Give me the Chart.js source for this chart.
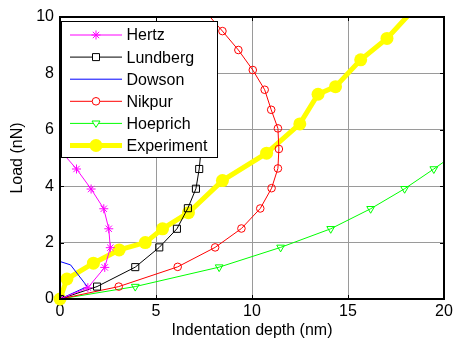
<!DOCTYPE html>
<html>
<head>
<meta charset="utf-8">
<script src="https://cdn.jsdelivr.net/npm/chart.js@4.4.1/dist/chart.umd.min.js"></script>
<style>
html, body { margin: 0; padding: 0; background: #fff; }
#wrap { width: 453px; height: 340px; }
</style>
</head>
<body>
<div id="wrap"><canvas id="chart" width="453" height="340"></canvas></div>
<script>
// tick labels
const depthTicks = [0, 5, 10, 15, 20];
const loadTicks = [0, 2, 4, 6, 8, 10];

// series (depth in nm, load in nN)
const hertzDepth = [0, 1.45, 2.33, 2.62, 2.54, 2.28, 1.62, 0.86, -0.05, -1.0];
const hertzLoad = [0, 0.40, 1.12, 1.82, 2.49, 3.20, 3.90, 4.61, 5.32, 6.0];

const lundbergDepth = [0, 1.93, 3.92, 5.17, 6.09, 6.66, 7.08, 7.25, 7.35, 7.40, 7.43, 7.45, 7.46];
const lundbergLoad = [0, 0.44, 1.13, 1.83, 2.49, 3.22, 3.91, 4.61, 5.30, 6.00, 6.70, 7.40, 8.10];

const dowsonDepth = [0, 1.42, 0.55, -0.6];
const dowsonLoad = [0, 0.44, 1.21, 1.46];

const nikpurDepth = [0, 3.06, 6.13, 8.08, 9.45, 10.43, 11.02, 11.35, 11.40, 11.35, 11.0, 10.66, 10.04, 9.29, 8.46, 7.5];
const nikpurLoad = [0, 0.44, 1.14, 1.83, 2.50, 3.21, 3.93, 4.63, 5.32, 6.05, 6.71, 7.42, 8.12, 8.83, 9.50, 10.25];

const hoeprichDepth = [0, 3.92, 8.29, 11.49, 14.1, 16.18, 17.95, 19.47, 20.9];
const hoeprichLoad = [0, 0.44, 1.13, 1.83, 2.49, 3.20, 3.91, 4.61, 5.30];

const experimentDepth = [0, 0.36, 1.74, 3.08, 4.44, 5.34, 6.69, 8.46, 10.76, 12.49, 13.44, 14.35, 15.66, 17.03, 18.6];
const experimentLoad = [0, 0.71, 1.27, 1.74, 2.0, 2.49, 3.06, 4.2, 5.17, 6.21, 7.26, 7.53, 8.48, 9.24, 10.4];

const FONT = "'Liberation Sans', Arial, sans-serif";

function toPoints(xs, ys) {
    return xs.map((x, i) => ({ x: x, y: ys[i] }));
}

// legend entries, in the order the reference lists them
const legendItems = [
    { label: 'Hertz', color: '#ff00ff', width: 1, marker: 'star', r: 4.5 },
    { label: 'Lundberg', color: '#000000', width: 1, marker: 'square', r: 3.5 },
    { label: 'Dowson', color: '#0000ff', width: 1, marker: null },
    { label: 'Nikpur', color: '#ff0000', width: 1, marker: 'circle', r: 3.8 },
    { label: 'Hoeprich', color: '#00ff00', width: 1, marker: 'tri', r: 4 },
    { label: 'Experiment', color: '#ffff00', width: 5, marker: 'dot', r: 6.5 },
];

function drawMarker(ctx, kind, x, y, r, color) {
    ctx.strokeStyle = color;
    ctx.fillStyle = color;
    ctx.lineWidth = 1;
    ctx.beginPath();
    if (kind === 'star') {
        for (let a = 0; a < 4; a++) {
            const ang = a * Math.PI / 4;
            ctx.moveTo(x - r * Math.cos(ang), y - r * Math.sin(ang));
            ctx.lineTo(x + r * Math.cos(ang), y + r * Math.sin(ang));
        }
        ctx.stroke();
    } else if (kind === 'square') {
        ctx.rect(x - r, y - r, 2 * r, 2 * r);
        ctx.fillStyle = '#fff';
        ctx.fill();
        ctx.stroke();
    } else if (kind === 'circle') {
        ctx.arc(x, y, r, 0, Math.PI * 2);
        ctx.fillStyle = '#fff';
        ctx.fill();
        ctx.stroke();
    } else if (kind === 'tri') {
        ctx.moveTo(x - r, y - r * 0.6);
        ctx.lineTo(x + r, y - r * 0.6);
        ctx.lineTo(x, y + r);
        ctx.closePath();
        ctx.fillStyle = '#fff';
        ctx.fill();
        ctx.stroke();
    } else if (kind === 'dot') {
        ctx.arc(x, y, r, 0, Math.PI * 2);
        ctx.fill();
    }
}

// axes box with inward tick marks, like the MATLAB frame
const framePlugin = {
    id: 'frame',
    afterDatasetsDraw(chart) {
        const { ctx, chartArea: a, scales } = chart;
        ctx.save();
        ctx.strokeStyle = '#000';
        ctx.lineWidth = 1;
        ctx.beginPath();
        depthTicks.forEach((v) => {
            const px = Math.round(scales.x.getPixelForValue(v)) + 0.5;
            ctx.moveTo(px, a.bottom);
            ctx.lineTo(px, a.bottom - 4);
            ctx.moveTo(px, a.top);
            ctx.lineTo(px, a.top + 4);
        });
        loadTicks.forEach((v) => {
            const py = Math.round(scales.y.getPixelForValue(v)) + 0.5;
            ctx.moveTo(a.left, py);
            ctx.lineTo(a.left + 4, py);
            ctx.moveTo(a.right, py);
            ctx.lineTo(a.right - 4, py);
        });
        ctx.stroke();
        ctx.lineWidth = 2;
        ctx.strokeRect(a.left, a.top, a.right - a.left, a.bottom - a.top);
        ctx.restore();
    }
};

const legendPlugin = {
    id: 'boxLegend',
    afterDraw(chart) {
        const ctx = chart.ctx;
        const box = { left: 61, top: 21, right: 217, bottom: 157 };
        ctx.save();
        ctx.fillStyle = '#fff';
        ctx.fillRect(box.left, box.top, box.right - box.left, box.bottom - box.top);
        ctx.strokeStyle = '#000';
        ctx.lineWidth = 1;
        ctx.strokeRect(box.left + 0.5, box.top + 0.5, box.right - box.left, box.bottom - box.top);
        ctx.font = '16px ' + FONT;
        ctx.textBaseline = 'middle';
        legendItems.forEach((item, i) => {
            const y = 35 + i * 22.1;
            ctx.strokeStyle = item.color;
            ctx.lineWidth = item.width;
            ctx.beginPath();
            ctx.moveTo(70, y);
            ctx.lineTo(122, y);
            ctx.stroke();
            if (item.marker) {
                drawMarker(ctx, item.marker, 96, y, item.r, item.color);
            }
            ctx.fillStyle = '#000';
            ctx.fillText(item.label, 126.5, y + 1);
        });
        ctx.restore();
    }
};

function modelSet(label, xs, ys, color, style, radius, rotation) {
    return {
        label: label,
        data: toPoints(xs, ys),
        borderColor: color,
        borderWidth: 1,
        pointStyle: style || 'circle',
        pointRadius: style ? radius : 0,
        pointRotation: rotation || 0,
        pointBorderColor: color,
        pointBackgroundColor: 'rgba(0,0,0,0)',
        pointBorderWidth: 1,
        tension: 0,
        clip: 0,
    };
}

new Chart(document.getElementById('chart'), {
    type: 'line',
    data: {
        datasets: [
            modelSet('Hertz', hertzDepth, hertzLoad, '#ff00ff', 'star', 4.5),
            modelSet('Lundberg', lundbergDepth, lundbergLoad, '#000000', 'rect', 5),
            modelSet('Dowson', dowsonDepth, dowsonLoad, '#0000ff', null, 0),
            modelSet('Nikpur', nikpurDepth, nikpurLoad, '#ff0000', 'circle', 3.8),
            modelSet('Hoeprich', hoeprichDepth, hoeprichLoad, '#00ff00', 'triangle', 4.5, 180),
            {
                label: 'Experiment',
                data: toPoints(experimentDepth, experimentLoad),
                borderColor: '#ffff00',
                backgroundColor: '#ffff00',
                borderWidth: 5,
                pointRadius: 6.5,
                pointBorderWidth: 0,
                pointBackgroundColor: '#ffff00',
                tension: 0,
                clip: { left: 8, bottom: 8, top: 0, right: 0 },
            },
        ]
    },
    options: {
        responsive: false,
        animation: false,
        layout: { padding: { top: 17, right: 9, left: 0, bottom: 0 } },
        plugins: {
            legend: { display: false },
            tooltip: { enabled: false },
        },
        scales: {
            x: {
                type: 'linear',
                min: 0,
                max: 20,
                afterBuildTicks: (s) => { s.ticks = depthTicks.map((v) => ({ value: v })); },
                afterFit: (s) => { s.height = 41; s.paddingLeft = 0; s.paddingRight = 0; },
                grid: { color: '#9a9a9a', drawTicks: false },
                border: { display: false },
                ticks: { color: '#000', padding: 3, font: { family: FONT, size: 16 } },
                title: {
                    display: true,
                    text: 'Indentation depth (nm)',
                    color: '#000',
                    padding: 0,
                    font: { family: FONT, size: 16 },
                },
            },
            y: {
                type: 'linear',
                min: 0,
                max: 10,
                afterBuildTicks: (s) => { s.ticks = loadTicks.map((v) => ({ value: v })); },
                afterFit: (s) => { s.width = 60; s.paddingTop = 0; s.paddingBottom = 0; },
                grid: { color: '#9a9a9a', drawTicks: false },
                border: { display: false },
                ticks: { color: '#000', padding: 6, font: { family: FONT, size: 16 } },
                title: {
                    display: true,
                    text: 'Load (nN)',
                    color: '#000',
                    padding: { top: 8, bottom: 0 },
                    font: { family: FONT, size: 16 },
                },
            },
        }
    },
    plugins: [framePlugin, legendPlugin]
});
</script>
</body>
</html>
